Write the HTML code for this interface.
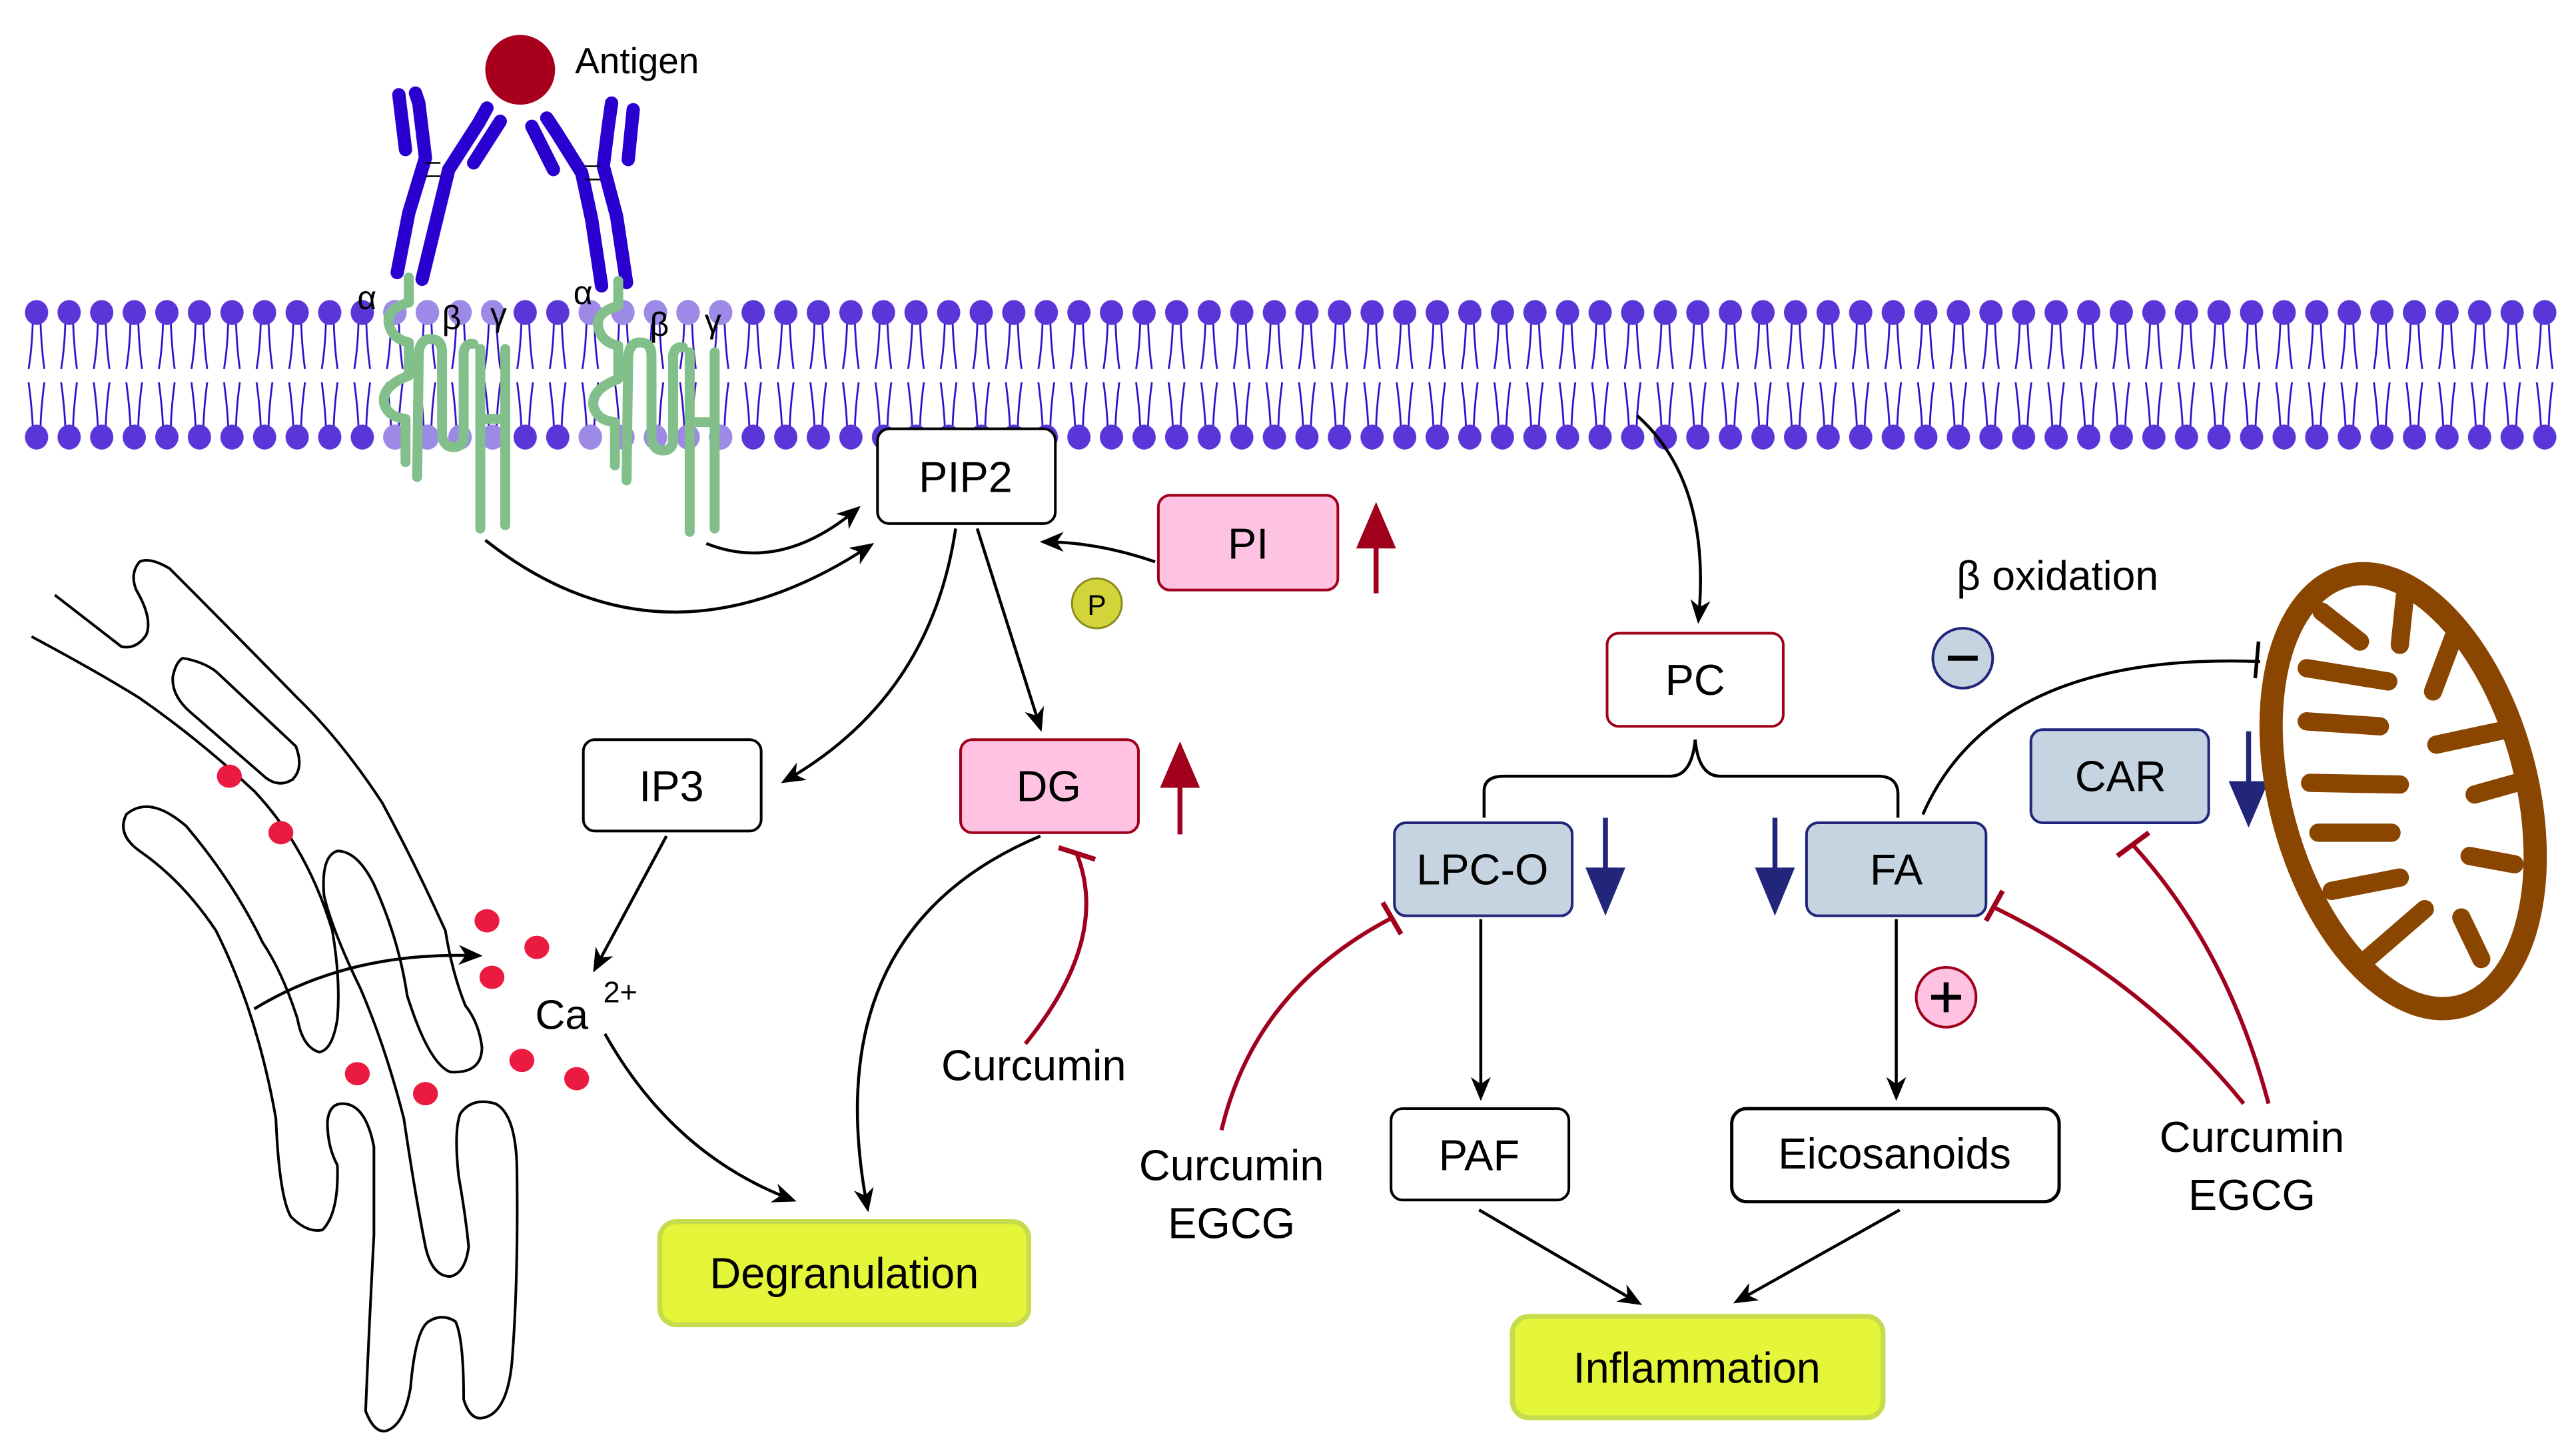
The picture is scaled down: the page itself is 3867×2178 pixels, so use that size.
<!DOCTYPE html>
<html><head><meta charset="utf-8"><style>
html,body{margin:0;padding:0;background:#fff;}
svg{display:block;}
text{font-family:"Liberation Sans",Arial,sans-serif;fill:#000;}
</style></head><body>
<svg width="3867" height="2178" viewBox="0 0 1550 873" preserveAspectRatio="none" xmlns="http://www.w3.org/2000/svg">
<defs>
<marker id="ah" viewBox="0 0 12 10" refX="10" refY="5" markerWidth="15" markerHeight="12" markerUnits="userSpaceOnUse" orient="auto">
<path d="M0,0 L12,5 L0,10 L3.5,5 z" fill="#000"/></marker>
<pattern id="mem" patternUnits="userSpaceOnUse" x="12.2" y="0" width="19.6" height="873">
<g stroke="#2a10c8" stroke-width="1.1" fill="none">
<path d="M7.5,194 Q7,210 5,222"/><path d="M12.2,194 Q12.8,210 14.5,222"/>
<path d="M5,230 Q7,245 7.5,257"/><path d="M14.5,230 Q12.5,245 12.2,257"/>
</g>
<ellipse cx="9.8" cy="188" rx="7" ry="7.5" fill="#5a35d8"/>
<ellipse cx="9.8" cy="263" rx="7" ry="7.5" fill="#5a35d8"/>
</pattern>
</defs>

<rect x="12" y="170" width="1528" height="105" fill="url(#mem)"/>
<g fill="#9d8ae6">
<ellipse cx="237.6" cy="188" rx="7" ry="7.5"/><ellipse cx="257.2" cy="188" rx="7" ry="7.5"/><ellipse cx="276.8" cy="188" rx="7" ry="7.5"/><ellipse cx="296.4" cy="188" rx="7" ry="7.5"/>
<ellipse cx="355.2" cy="188" rx="7" ry="7.5"/><ellipse cx="374.8" cy="188" rx="7" ry="7.5"/><ellipse cx="394.4" cy="188" rx="7" ry="7.5"/><ellipse cx="414" cy="188" rx="7" ry="7.5"/><ellipse cx="433.6" cy="188" rx="7" ry="7.5"/>
<ellipse cx="237.6" cy="263" rx="7" ry="7.5"/><ellipse cx="257.2" cy="263" rx="7" ry="7.5"/><ellipse cx="276.8" cy="263" rx="7" ry="7.5"/><ellipse cx="296.4" cy="263" rx="7" ry="7.5"/>
<ellipse cx="355.2" cy="263" rx="7" ry="7.5"/><ellipse cx="374.8" cy="263" rx="7" ry="7.5"/><ellipse cx="394.4" cy="263" rx="7" ry="7.5"/><ellipse cx="414" cy="263" rx="7" ry="7.5"/><ellipse cx="433.6" cy="263" rx="7" ry="7.5"/>
</g>

<circle cx="313" cy="42" r="21" fill="#a8001c"/>
<text x="346" y="44" font-size="22">Antigen</text>

<g stroke="#2a00d0" stroke-width="8" fill="none" stroke-linecap="round" stroke-linejoin="round">
<path d="M239,164 L246,128 L256,95 L252,62 L250,56"/>
<path d="M254,168 L262,135 L270,102 L288,74 L293,65"/>
<path d="M240,57 L244,90"/><path d="M285,98 L301,73"/>
<path d="M362,172 L356,132 L350,104 L335,80 L329,71"/>
<path d="M377,170 L371,130 L363,100 L366,76 L368,62"/>
<path d="M320,76 L333,102"/><path d="M381,66 L378,96"/>
</g>
<g stroke="#000" stroke-width="1" fill="none">
<path d="M256,98 L265,98 M256,106 L265,106"/><path d="M352,100 L361,100 M352,108 L361,108"/>
</g>

<g id="rec" stroke="#82bf8a" stroke-width="6" fill="none" stroke-linecap="round" stroke-linejoin="round">
<path d="M246,167 L246,182 Q232,186 234,195 Q236,204 246,206 L246,226 Q230,232 231,242 Q233,251 244,252 L244,278"/>
<path d="M251,287 L252,212 Q253,204 259,204 Q266,204 266,212 L266,262 Q267,269 273,269 Q279,269 279,262 L279,212 Q280,206 285,207"/>
<path d="M289,210 L289,318"/><path d="M304,210 L304,316"/><path d="M289,252 L304,252"/>
</g>
<use href="#rec" transform="translate(126,2)"/>
<g font-size="20">
<text x="215" y="186">α</text><text x="266" y="198">β</text><text x="295" y="196">γ</text>
<text x="345" y="183">α</text><text x="391" y="202">β</text><text x="424" y="200">γ</text>
</g>

<g fill="none" stroke="#000" stroke-width="1.6" stroke-linejoin="round">
<path d="M19,383 Q60,405 84,420 Q120,445 153,476 Q185,510 200,560 Q205,590 203,613 Q200,632 192,633 Q182,630 179,613 Q170,585 158,567 Q140,530 112,497 Q90,478 76,490 Q70,502 84,512 Q110,530 130,560 Q155,610 166,673 Q168,720 175,732 Q185,742 194,740 Q204,730 203,701 Q197,690 197,675 Q198,664 206,664 Q220,664 225,690 L225,743 Q222,800 220,849 Q225,862 232,861 Q243,858 247,835 Q250,800 258,795 Q266,790 274,795 Q279,805 279,842 Q283,855 291,853 Q305,850 308,820 Q312,770 311,701 Q310,670 298,664 Q284,660 277,670 Q273,680 276,708 Q280,730 282,750 Q280,766 271,768 Q260,768 256,750 Q250,720 243,673 Q232,630 217,595 Q200,560 195,539 Q193,515 203,512 Q215,512 225,532 Q240,565 245,599 Q258,640 271,645 Q290,646 290,630 Q288,615 280,605 Q272,585 268,560 Q250,520 230,483 Q205,445 179,420 Q140,380 102,342 Q90,335 84,338 Q78,345 82,355 Q92,372 88,382 Q82,391 73,389 L33,358"/>
<path d="M110,396 Q122,398 130,404 L178,449 Q183,462 176,469 Q168,474 160,468 L114,428 Q103,418 104,407 Q106,398 110,396 z"/>
</g>
<g fill="#ea1a40">
<ellipse cx="138" cy="467" rx="7.5" ry="7"/><ellipse cx="169" cy="501" rx="7.5" ry="7"/>
<ellipse cx="293" cy="554" rx="7.5" ry="7"/><ellipse cx="323" cy="570" rx="7.5" ry="7"/>
<ellipse cx="296" cy="588" rx="7.5" ry="7"/><ellipse cx="215" cy="646" rx="7.5" ry="7"/>
<ellipse cx="256" cy="658" rx="7.5" ry="7"/><ellipse cx="314" cy="638" rx="7.5" ry="7"/>
<ellipse cx="347" cy="649" rx="7.5" ry="7"/>
</g>
<text x="322" y="619" font-size="25">Ca</text><text x="363" y="603" font-size="18">2+</text>

<g stroke-width="1.6">
<rect x="528" y="258" width="107" height="57" rx="7" fill="#fff" stroke="#000"/>
<rect x="697" y="298" width="108" height="57" rx="7" fill="#ffc2e2" stroke="#a0001c"/>
<rect x="351" y="445" width="107" height="55" rx="7" fill="#fff" stroke="#000"/>
<rect x="578" y="445" width="107" height="56" rx="7" fill="#ffc2e2" stroke="#a0001c"/>
<rect x="967" y="381" width="106" height="56" rx="7" fill="#fff" stroke="#a0001c"/>
<rect x="839" y="495" width="107" height="56" rx="7" fill="#c6d4e2" stroke="#22267a"/>
<rect x="1087" y="495" width="108" height="56" rx="7" fill="#c6d4e2" stroke="#22267a"/>
<rect x="1222" y="439" width="107" height="56" rx="7" fill="#c6d4e2" stroke="#22267a"/>
<rect x="837" y="667" width="107" height="55" rx="7" fill="#fff" stroke="#000"/>
<rect x="1042" y="667" width="197" height="56" rx="9" fill="#fff" stroke="#000" stroke-width="2"/>
</g>
<rect x="397" y="735" width="222" height="62" rx="10" fill="#e4f53a" stroke="#c6dc4c" stroke-width="3"/>
<rect x="910" y="792" width="223" height="61" rx="10" fill="#e4f53a" stroke="#c6dc4c" stroke-width="3"/>
<g font-size="26" text-anchor="middle">
<text x="581" y="296">PIP2</text>
<text x="751" y="336">PI</text>
<text x="404" y="482">IP3</text>
<text x="631" y="482">DG</text>
<text x="1020" y="418">PC</text>
<text x="892" y="532">LPC-O</text>
<text x="1141" y="532">FA</text>
<text x="1276" y="476">CAR</text>
<text x="890" y="704">PAF</text>
<text x="1140" y="703">Eicosanoids</text>
<text x="508" y="775">Degranulation</text>
<text x="1021" y="832">Inflammation</text>
<text x="622" y="650">Curcumin</text>
<text x="741" y="710">Curcumin</text><text x="741" y="745">EGCG</text>
<text x="1355" y="693">Curcumin</text><text x="1355" y="728">EGCG</text>
<text x="1238" y="355" font-size="25">β oxidation</text>
</g>

<g stroke-width="3" fill="none">
<path d="M828,357 L828,318" stroke="#a0001c"/><path d="M710,502 L710,462" stroke="#a0001c"/>
<path d="M966,492 L966,532" stroke="#22267a"/><path d="M1068,492 L1068,532" stroke="#22267a"/>
<path d="M1353,440 L1353,480" stroke="#22267a"/>
</g>
<path d="M816,330 L828,302 L840,330 z" fill="#a0001c"/>
<path d="M698,474 L710,446 L722,474 z" fill="#a0001c"/>
<path d="M954,522 L966,551 L978,522 z" fill="#22267a"/>
<path d="M1056,522 L1068,551 L1080,522 z" fill="#22267a"/>
<path d="M1341,470 L1353,498 L1365,470 z" fill="#22267a"/>

<circle cx="660" cy="363" r="15" fill="#d2d43a" stroke="#8a8a20" stroke-width="1.2"/>
<text x="660" y="370" font-size="17" text-anchor="middle">P</text>
<circle cx="1181" cy="396" r="18" fill="#c6d4e2" stroke="#22267a" stroke-width="1.6"/>
<path d="M1172,396 L1190,396" stroke="#000" stroke-width="3"/>
<circle cx="1171" cy="600" r="18" fill="#ffc2e2" stroke="#a0001c" stroke-width="1.6"/>
<path d="M1162,600 L1180,600 M1171,591 L1171,609" stroke="#000" stroke-width="3"/>

<!-- mitochondria -->
<ellipse cx="1446" cy="476" rx="74" ry="134" transform="rotate(-15 1446 476)" fill="#fff" stroke="#8a4500" stroke-width="14"/>
<g stroke="#8a4500" stroke-width="11" stroke-linecap="round" transform="translate(20,2)">
<path d="M1377,366 L1400,384"/><path d="M1427,357 L1424,386"/><path d="M1456,382 L1444,414"/>
<path d="M1368,400 L1417,408"/><path d="M1368,432 L1412,435"/><path d="M1370,469 L1424,470"/>
<path d="M1375,499 L1419,499"/><path d="M1383,534 L1424,526"/><path d="M1402,577 L1439,545"/>
<path d="M1473,575 L1461,550"/><path d="M1493,518 L1466,513"/><path d="M1494,469 L1469,476"/>
<path d="M1488,437 L1446,446"/>
</g>

<g fill="none" stroke="#000" stroke-width="1.8" marker-end="url(#ah)">
<path d="M292,325 Q400,410 524,328"/>
<path d="M425,327 Q470,345 516,306"/>
<path d="M575,318 Q560,420 472,470"/>
<path d="M588,318 L626,438"/>
<path d="M695,338 Q660,326 628,326"/>
<path d="M153,607 Q210,572 288,575"/>
<path d="M401,503 L358,583"/>
<path d="M364,622 Q405,695 477,722"/>
<path d="M626,503 Q490,560 522,727"/>
<path d="M985,250 Q1030,290 1022,373"/>
<path d="M891,553 L891,660"/>
<path d="M1141,553 L1141,660"/>
<path d="M890,728 L986,784"/>
<path d="M1143,728 L1045,783"/>
</g>
<g fill="none" stroke="#000" stroke-width="1.8">
<path d="M893,492 L893,476 Q893,467 905,467 L1005,467 Q1018,467 1020,445 Q1022,467 1035,467 L1130,467 Q1142,467 1142,478 L1142,492"/>
<path d="M1157,490 Q1200,392 1360,398"/>
<path d="M1359,386 L1357,408" stroke-width="2.2"/>
</g>

<g fill="none" stroke="#a0001c" stroke-width="2.4">
<path d="M617,628 Q668,565 648,514"/><path d="M637,510 L659,517" stroke-width="3"/>
<path d="M735,680 Q755,595 838,552"/><path d="M832,543 L843,562" stroke-width="3"/>
<path d="M1350,664 Q1290,590 1200,546"/><path d="M1195,554 L1205,536" stroke-width="3"/>
<path d="M1365,664 Q1340,570 1283,508"/><path d="M1274,515 L1293,501" stroke-width="3"/>
</g>
</svg>
</body></html>
